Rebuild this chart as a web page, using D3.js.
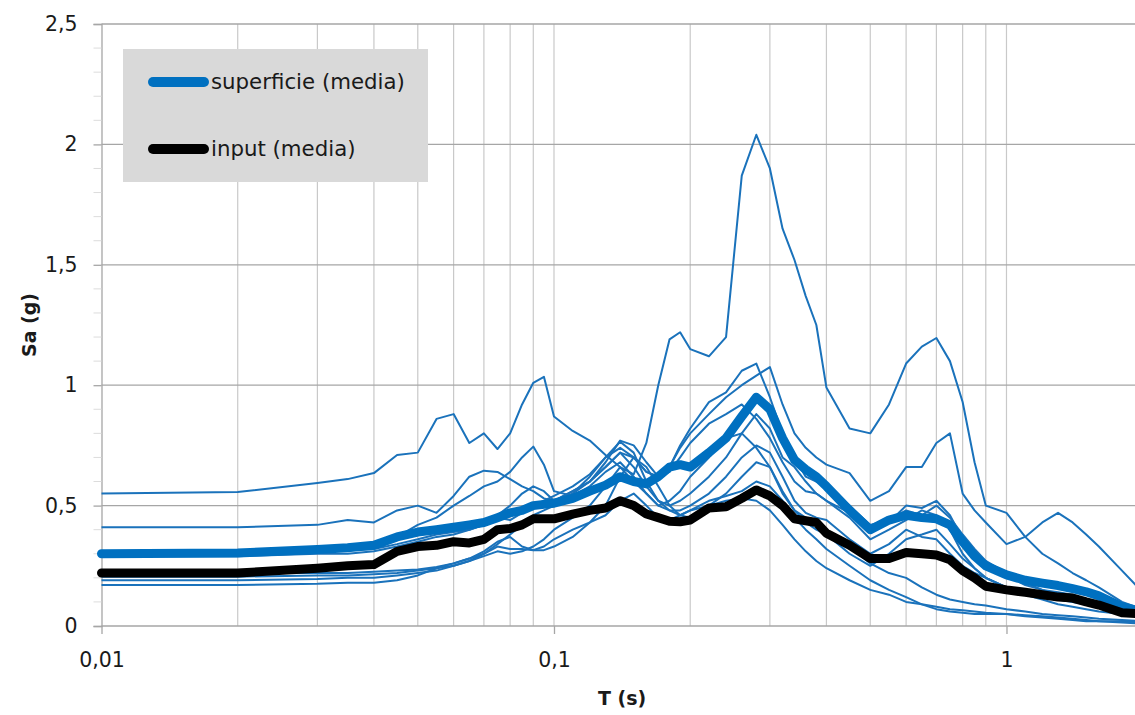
<!DOCTYPE html>
<html>
<head>
<meta charset="utf-8">
<script src="https://cdn.jsdelivr.net/npm/d3@7"></script>
<style>
  html, body { margin: 0; padding: 0; background: #fff; }
  svg { display: block; }
</style>
</head>
<body>
<svg id="chart"></svg>
<script>
// periods (s)
const periods = [0.01, 0.02, 0.03, 0.035, 0.04, 0.045, 0.05, 0.055, 0.06, 0.065, 0.07, 0.075, 0.08, 0.085, 0.09, 0.095,
  0.1, 0.11, 0.12, 0.13, 0.14, 0.15, 0.16, 0.17, 0.18, 0.19, 0.2, 0.22, 0.24, 0.26, 0.28, 0.3, 0.32, 0.34, 0.36, 0.38,
  0.4, 0.45, 0.5, 0.55, 0.6, 0.65, 0.7, 0.75, 0.8, 0.85, 0.9, 1.0, 1.1, 1.2, 1.3, 1.4, 1.5, 1.6, 1.8, 2.0];

// single records at surface
const rec01 = [0.55, 0.556, 0.594, 0.61, 0.635, 0.71, 0.72, 0.86, 0.88, 0.76, 0.80, 0.735, 0.80, 0.92, 1.01, 1.035,
  0.87, 0.81, 0.77, 0.71, 0.66, 0.63, 0.76, 1.0, 1.19, 1.22, 1.15, 1.12, 1.2, 1.87, 2.04, 1.9, 1.65, 1.52, 1.37, 1.25,
  0.99, 0.82, 0.8, 0.92, 1.09, 1.16, 1.196, 1.1, 0.93, 0.68, 0.5, 0.47, 0.37, 0.3, 0.26, 0.22, 0.19, 0.16, 0.1, 0.07];
const rec02 = [0.41, 0.41, 0.42, 0.44, 0.43, 0.48, 0.50, 0.47, 0.54, 0.62, 0.645, 0.64, 0.61, 0.58, 0.56, 0.53,
  0.52, 0.55, 0.60, 0.66, 0.72, 0.66, 0.58, 0.52, 0.50, 0.52, 0.55, 0.62, 0.70, 0.80, 0.88, 0.82, 0.70, 0.66, 0.60, 0.55,
  0.52, 0.47, 0.40, 0.43, 0.50, 0.49, 0.52, 0.46, 0.36, 0.30, 0.26, 0.21, 0.17, 0.15, 0.14, 0.13, 0.11, 0.10, 0.08, 0.06];
const rec03 = [0.31, 0.31, 0.315, 0.32, 0.33, 0.36, 0.38, 0.40, 0.42, 0.41, 0.43, 0.45, 0.44, 0.47, 0.50, 0.52,
  0.54, 0.58, 0.63, 0.70, 0.74, 0.70, 0.64, 0.62, 0.66, 0.74, 0.80, 0.88, 0.95, 1.0, 1.04, 1.075, 0.92, 0.80, 0.74, 0.70,
  0.67, 0.635, 0.52, 0.56, 0.66, 0.66, 0.76, 0.80, 0.55, 0.48, 0.43, 0.34, 0.37, 0.43, 0.47, 0.43, 0.38, 0.33, 0.23, 0.14];
const rec04 = [0.29, 0.29, 0.30, 0.30, 0.31, 0.33, 0.35, 0.37, 0.38, 0.40, 0.42, 0.44, 0.46, 0.48, 0.50, 0.51,
  0.52, 0.56, 0.60, 0.68, 0.77, 0.75, 0.68, 0.62, 0.66, 0.75, 0.82, 0.93, 0.97, 1.06, 1.09, 0.95, 0.80, 0.70, 0.62, 0.60,
  0.58, 0.50, 0.42, 0.44, 0.48, 0.46, 0.50, 0.45, 0.38, 0.32, 0.27, 0.22, 0.18, 0.15, 0.13, 0.11, 0.09, 0.08, 0.06, 0.05];
const rec05 = [0.30, 0.30, 0.31, 0.32, 0.33, 0.37, 0.42, 0.45, 0.50, 0.54, 0.58, 0.60, 0.64, 0.70, 0.745, 0.67,
  0.56, 0.54, 0.58, 0.64, 0.68, 0.62, 0.55, 0.50, 0.48, 0.48, 0.50, 0.55, 0.62, 0.70, 0.75, 0.72, 0.62, 0.52, 0.47, 0.45,
  0.44, 0.36, 0.30, 0.34, 0.40, 0.37, 0.36, 0.30, 0.25, 0.22, 0.20, 0.16, 0.13, 0.11, 0.09, 0.08, 0.07, 0.06, 0.05, 0.04];
const rec06 = [0.22, 0.22, 0.22, 0.22, 0.225, 0.23, 0.235, 0.245, 0.26, 0.28, 0.31, 0.35, 0.37, 0.33, 0.315, 0.315,
  0.33, 0.37, 0.43, 0.50, 0.62, 0.70, 0.66, 0.58, 0.50, 0.46, 0.45, 0.50, 0.55, 0.62, 0.68, 0.66, 0.56, 0.48, 0.43, 0.40,
  0.38, 0.33, 0.26, 0.22, 0.20, 0.16, 0.13, 0.11, 0.10, 0.09, 0.085, 0.07, 0.06, 0.05, 0.045, 0.04, 0.035, 0.03, 0.025, 0.02];
const rec07 = [0.205, 0.205, 0.21, 0.21, 0.215, 0.22, 0.23, 0.24, 0.25, 0.27, 0.30, 0.34, 0.38, 0.42, 0.46, 0.48,
  0.50, 0.55, 0.62, 0.70, 0.765, 0.72, 0.60, 0.52, 0.48, 0.46, 0.48, 0.52, 0.54, 0.56, 0.60, 0.58, 0.52, 0.45, 0.40, 0.36,
  0.32, 0.25, 0.19, 0.15, 0.12, 0.09, 0.07, 0.06, 0.055, 0.05, 0.05, 0.05, 0.045, 0.04, 0.035, 0.03, 0.025, 0.02, 0.02, 0.015];
const rec08 = [0.17, 0.17, 0.175, 0.18, 0.18, 0.19, 0.21, 0.24, 0.26, 0.28, 0.30, 0.33, 0.32, 0.32, 0.315, 0.33,
  0.36, 0.40, 0.43, 0.46, 0.52, 0.55, 0.50, 0.45, 0.44, 0.46, 0.48, 0.50, 0.52, 0.53, 0.52, 0.48, 0.42, 0.36, 0.31, 0.27,
  0.24, 0.19, 0.15, 0.13, 0.10, 0.09, 0.08, 0.07, 0.065, 0.06, 0.055, 0.05, 0.04, 0.035, 0.03, 0.025, 0.02, 0.02, 0.015, 0.01];
const rec09 = [0.19, 0.19, 0.195, 0.20, 0.20, 0.21, 0.22, 0.23, 0.25, 0.27, 0.29, 0.31, 0.30, 0.31, 0.33, 0.36,
  0.40, 0.45, 0.50, 0.58, 0.66, 0.60, 0.55, 0.50, 0.52, 0.56, 0.62, 0.70, 0.78, 0.80, 0.74, 0.66, 0.55, 0.48, 0.45, 0.42,
  0.38, 0.30, 0.25, 0.30, 0.36, 0.38, 0.40, 0.34, 0.28, 0.24, 0.20, 0.16, 0.14, 0.12, 0.11, 0.10, 0.09, 0.08, 0.06, 0.04];
const rec10 = [0.31, 0.31, 0.31, 0.315, 0.32, 0.34, 0.36, 0.38, 0.39, 0.40, 0.42, 0.46, 0.50, 0.55, 0.58, 0.56,
  0.52, 0.56, 0.60, 0.66, 0.72, 0.70, 0.64, 0.62, 0.64, 0.70, 0.76, 0.84, 0.88, 0.92, 0.86, 0.78, 0.68, 0.60, 0.56, 0.55,
  0.52, 0.45, 0.36, 0.40, 0.44, 0.48, 0.46, 0.40, 0.30, 0.24, 0.20, 0.16, 0.14, 0.13, 0.12, 0.11, 0.10, 0.09, 0.07, 0.05];

// means
const superficieMedia = [0.30, 0.303, 0.318, 0.325, 0.335, 0.37, 0.39, 0.40, 0.41, 0.42, 0.43, 0.45, 0.47, 0.48, 0.50, 0.505,
  0.51, 0.53, 0.56, 0.585, 0.62, 0.60, 0.59, 0.62, 0.66, 0.67, 0.66, 0.72, 0.78, 0.87, 0.95, 0.90, 0.78, 0.69, 0.65, 0.62,
  0.58, 0.48, 0.40, 0.44, 0.46, 0.45, 0.445, 0.42, 0.35, 0.29, 0.25, 0.212, 0.19, 0.178, 0.168, 0.155, 0.142, 0.125, 0.08, 0.06];
const inputMedia = [0.22, 0.22, 0.24, 0.25, 0.255, 0.31, 0.33, 0.335, 0.35, 0.345, 0.36, 0.40, 0.405, 0.42, 0.445, 0.445,
  0.445, 0.465, 0.48, 0.49, 0.52, 0.50, 0.465, 0.45, 0.435, 0.433, 0.44, 0.49, 0.495, 0.53, 0.565, 0.54, 0.50, 0.445, 0.437, 0.43,
  0.385, 0.335, 0.28, 0.28, 0.305, 0.30, 0.295, 0.275, 0.23, 0.20, 0.165, 0.15, 0.14, 0.13, 0.12, 0.116, 0.10, 0.087, 0.055, 0.05];

const records = [rec01, rec02, rec03, rec04, rec05, rec06, rec07, rec08, rec09, rec10];

const xTickValues = [0.01, 0.1, 1];
const yTickValues = [0, 0.5, 1, 1.5, 2, 2.5];
const legendLabels = ['superficie (media)', 'input (media)'];

const width = 1135, height = 715;
const plot = { left: 101.5, right: 1142.7, top: 24, bottom: 626 };
const FONT = '"DejaVu Sans", "Liberation Sans", sans-serif';

const svg = d3.select('#chart')
  .attr('width', width)
  .attr('height', height)
  .style('font-family', FONT);

const x = d3.scaleLog().domain([0.01, 2]).range([plot.left, plot.right]);
const y = d3.scaleLinear().domain([0, 2.5]).range([plot.bottom, plot.top]);

const comma = d3.formatLocale({ decimal: ',', thousands: '.', grouping: [3], currency: ['', ''] });
const fmt = v => comma.format('~g')(v);

// vertical grid (log minor)
svg.append('g')
  .selectAll('line')
  .data(x.ticks().filter(d => d > 0.01))
  .join('line')
  .attr('x1', d => x(d)).attr('x2', d => x(d))
  .attr('y1', plot.top).attr('y2', plot.bottom)
  .attr('stroke', '#c9c9c9')
  .attr('stroke-width', 1.2);

// horizontal grid
svg.append('g')
  .selectAll('line')
  .data(yTickValues.filter(d => d > 0))
  .join('line')
  .attr('x1', plot.left).attr('x2', width)
  .attr('y1', d => y(d)).attr('y2', d => y(d))
  .attr('stroke', '#a6a6a6')
  .attr('stroke-width', 1.3);

// y axis
const yAxis = svg.append('g')
  .attr('transform', `translate(${plot.left},0)`)
  .call(d3.axisLeft(y).tickValues(yTickValues).tickSize(8).tickPadding(16).tickFormat(fmt));
yAxis.select('.domain').attr('stroke', '#a6a6a6').attr('stroke-width', 1.3);
yAxis.selectAll('.tick line').attr('stroke', '#a6a6a6').attr('stroke-width', 1.3);
yAxis.selectAll('.tick text').attr('font-size', 20.5).attr('fill', '#1a1a1a').attr('font-family', FONT);

// y minor ticks
svg.append('g')
  .selectAll('line')
  .data(d3.range(1, 25).filter(i => i % 5 !== 0).map(i => i / 10))
  .join('line')
  .attr('x1', plot.left - 8).attr('x2', plot.left)
  .attr('y1', d => y(d)).attr('y2', d => y(d))
  .attr('stroke', '#dcdcdc');

// x axis
const xAxis = svg.append('g')
  .attr('transform', `translate(0,${plot.bottom})`)
  .call(d3.axisBottom(x).tickValues(xTickValues).tickSize(8).tickPadding(18).tickFormat(fmt));
xAxis.select('.domain').remove();
xAxis.selectAll('.tick line').attr('stroke', '#a6a6a6').attr('stroke-width', 1.3);
xAxis.selectAll('.tick text').attr('font-size', 20.5).attr('fill', '#1a1a1a').attr('font-family', FONT);
svg.append('line')
  .attr('x1', plot.left).attr('x2', width)
  .attr('y1', plot.bottom).attr('y2', plot.bottom)
  .attr('stroke', '#a6a6a6').attr('stroke-width', 1.3);

// series
const line = d3.line()
  .x((d, i) => x(periods[i]))
  .y(d => y(d));

const lines = svg.append('g');
lines.selectAll('path.rec')
  .data(records)
  .join('path')
  .attr('class', 'rec')
  .attr('d', line)
  .attr('fill', 'none')
  .attr('stroke', '#1a72bb')
  .attr('stroke-width', 2)
  .attr('stroke-linejoin', 'round');

lines.append('path')
  .datum(superficieMedia)
  .attr('d', line)
  .attr('fill', 'none')
  .attr('stroke', '#0070c0')
  .attr('stroke-width', 9)
  .attr('stroke-linejoin', 'round')
  .attr('stroke-linecap', 'round');

lines.append('path')
  .datum(inputMedia)
  .attr('d', line)
  .attr('fill', 'none')
  .attr('stroke', '#000')
  .attr('stroke-width', 9)
  .attr('stroke-linejoin', 'round')
  .attr('stroke-linecap', 'round');

// axis titles
svg.append('text')
  .attr('x', (plot.left + plot.right) / 2)
  .attr('y', 705)
  .attr('text-anchor', 'middle')
  .attr('font-size', 19)
  .attr('font-weight', 'bold')
  .attr('fill', '#1a1a1a')
  .text('T (s)');

svg.append('text')
  .attr('transform', `translate(36,${(plot.top + plot.bottom) / 2}) rotate(-90)`)
  .attr('text-anchor', 'middle')
  .attr('font-size', 19)
  .attr('font-weight', 'bold')
  .attr('fill', '#1a1a1a')
  .text('Sa (g)');

// legend
const legend = svg.append('g');
legend.append('rect')
  .attr('x', 123).attr('y', 49)
  .attr('width', 305).attr('height', 133)
  .attr('fill', '#d9d9d9');

const legendColors = ['#0070c0', '#000'];
const legendY = [82, 149];
legendLabels.forEach((label, i) => {
  legend.append('line')
    .attr('x1', 153).attr('x2', 204)
    .attr('y1', legendY[i]).attr('y2', legendY[i])
    .attr('stroke', legendColors[i])
    .attr('stroke-width', 10)
    .attr('stroke-linecap', 'round');
  legend.append('text')
    .attr('x', 211)
    .attr('y', legendY[i])
    .attr('dy', '0.35em')
    .attr('font-size', 21.3)
    .attr('fill', '#1a1a1a')
    .text(label);
});
</script>
</body>
</html>
